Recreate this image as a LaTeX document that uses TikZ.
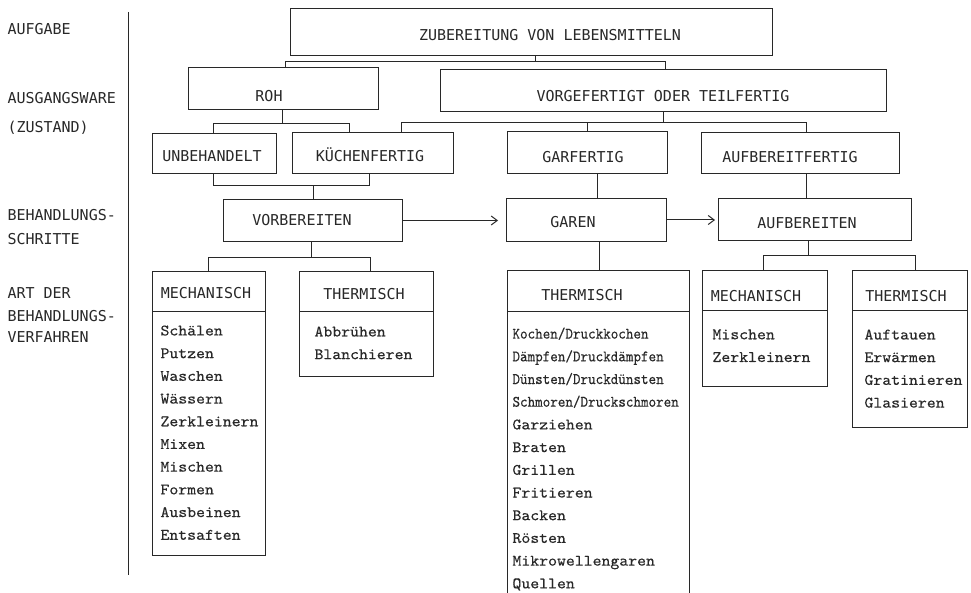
\documentclass[tikz,border=0pt]{standalone}
\usepackage{fontspec}
\usetikzlibrary{arrows.meta}
\newfontfamily\capfont{DejaVu Sans Mono}
\newfontfamily\itemfont{lmmono10-regular.otf}[FakeStretch=1.06,FakeBold=0.4]
\newfontfamily\condfont{lmmono10-regular.otf}[FakeStretch=0.9,FakeBold=0.3]
\definecolor{ink}{RGB}{40,40,40}
\begin{document}
\begin{tikzpicture}[x=1pt,y=-1pt,line width=1pt,draw=ink,text=ink,
  box/.style={draw=ink,rectangle,inner sep=0pt,anchor=north west},
  captxt/.style={font=\capfont\fontsize{15}{18}\selectfont,inner sep=0pt,text height=11pt,text depth=0pt},
  lbl/.style={captxt,anchor=west},
  items/.style={font=\itemfont\fontsize{16}{22.7}\selectfont,align=left,anchor=north west,inner sep=0pt},
  arr/.style={-{Straight Barb[length=6pt,width=9pt]}}]
\useasboundingbox (0,0) rectangle (971,593);
% left column labels
\node[lbl] (l1) at (7,29) {AUFGABE};
\node[lbl] (l2) at (7,98) {AUSGANGSWARE};
\node[lbl] (l3) at (7,127) {(ZUSTAND)};
\node[lbl] (l4) at (7,215) {BEHANDLUNGS-};
\node[lbl] (l5) at (7,239) {SCHRITTE};
\node[lbl] (l6) at (7,293) {ART DER};
\node[lbl] (l7) at (7,316) {BEHANDLUNGS-};
\node[lbl] (l8) at (7,337) {VERFAHREN};
\coordinate (vl1) at (128,12);
\coordinate (vl2) at (128,575);
\draw (vl1) -- (vl2);
% boxes
\node[box,minimum width=482pt,minimum height=47pt] (top) at (290,8) {};
\node[box,minimum width=190pt,minimum height=42pt] (roh) at (188,67) {};
\node[box,minimum width=446pt,minimum height=42pt] (vorg) at (440,69) {};
\node[box,minimum width=124pt,minimum height=40pt] (unb) at (152,133) {};
\node[box,minimum width=161pt,minimum height=41pt] (kue) at (292,132) {};
\node[box,minimum width=160pt,minimum height=42pt] (garf) at (507,131) {};
\node[box,minimum width=198pt,minimum height=41pt] (aufbf) at (701,132) {};
\node[box,minimum width=179pt,minimum height=42pt] (vorb) at (223,199) {};
\node[box,minimum width=160pt,minimum height=43pt] (garen) at (506,198) {};
\node[box,minimum width=193pt,minimum height=42pt] (aufb) at (718,198) {};
\node[box,minimum width=113pt,minimum height=284pt] (lm) at (152,271) {};
\node[box,minimum width=134pt,minimum height=105pt] (lt) at (299,271) {};
\node[box,minimum width=182pt,minimum height=335pt] (ct) at (507,270) {};
\node[box,minimum width=125pt,minimum height=116pt] (rm) at (702,270) {};
\node[box,minimum width=115pt,minimum height=157pt] (rt) at (852,270) {};
% header dividers
\coordinate (dL) at (0,312);
\coordinate (dR) at (0,311);
\draw (lm.west |- dL) -- (lm.east |- dL);
\draw (lt.west |- dL) -- (lt.east |- dL);
\draw (ct.west |- dL) -- (ct.east |- dL);
\draw (rm.west |- dR) -- (rm.east |- dR);
\draw (rt.west |- dR) -- (rt.east |- dR);
% box texts
\node[captxt] (tTop) at (550,35) {ZUBEREITUNG VON LEBENSMITTELN};
\node[captxt] (tRoh) at (269,96) {ROH};
\node[captxt] (tVorg) at (663,96) {VORGEFERTIGT ODER TEILFERTIG};
\node[captxt] (tUnb) at (212,156) {UNBEHANDELT};
\node[captxt] (tKue) at (370,156) {KÜCHENFERTIG};
\node[captxt] (tGarf) at (583,157) {GARFERTIG};
\node[captxt] (tAufbf) at (790,157) {AUFBEREITFERTIG};
\node[captxt] (tVorb) at (302,220) {VORBEREITEN};
\node[captxt] (tGaren) at (573,222) {GAREN};
\node[captxt] (tAufb) at (807,223) {AUFBEREITEN};
\node[captxt] (hLm) at (206,293) {MECHANISCH};
\node[captxt] (hLt) at (364,294) {THERMISCH};
\node[captxt] (hCt) at (582,295) {THERMISCH};
\node[captxt] (hRm) at (756,296) {MECHANISCH};
\node[captxt] (hRt) at (906,296) {THERMISCH};
% item lists
\node[items] (iLm) at (160,325) {Schälen\\Putzen\\Waschen\\Wässern\\Zerkleinern\\Mixen\\Mischen\\Formen\\Ausbeinen\\Entsaften};
\node[items] (iLt) at (314,326) {Abbrühen\\Blanchieren};
\node[items] (iCt) at (512,327) {{\condfont Kochen/Druckkochen}\\{\condfont Dämpfen/Druckdämpfen}\\{\condfont Dünsten/Druckdünsten}\\{\condfont Schmoren/Druckschmoren}\\Garziehen\\Braten\\Grillen\\Fritieren\\Backen\\Rösten\\Mikrowellengaren\\Quellen};
\node[items] (iRm) at (712,329) {Mischen\\Zerkleinern};
\node[items] (iRt) at (864,329) {Auftauen\\Erwärmen\\Gratinieren\\Glasieren};
% connectors: top
\coordinate (t0) at (535,62);
\coordinate (tL) at (285,62);
\coordinate (tR) at (665,62);
\draw (top.south -| t0) -- (t0);
\draw (roh.north -| tL) -- (tL) -- (tR) -- (vorg.north -| tR);
% ROH bus
\coordinate (r0) at (282,124);
\coordinate (rL) at (213,124);
\coordinate (rR) at (349,124);
\draw (roh.south -| r0) -- (r0);
\draw (unb.north -| rL) -- (rL) -- (rR) -- (kue.north -| rR);
% VORG bus
\coordinate (v0) at (663,123);
\coordinate (vL) at (401,123);
\coordinate (vM) at (587,123);
\coordinate (vR) at (806,123);
\draw (vorg.south -| v0) -- (v0);
\draw (kue.north -| vL) -- (vL) -- (vR) -- (aufbf.north -| vR);
\draw (vM) -- (garf.north -| vM);
% to VORBEREITEN
\coordinate (u0) at (313,186);
\coordinate (uL) at (213,186);
\coordinate (uR) at (369,186);
\draw (unb.south -| uL) -- (uL) -- (uR) -- (kue.south -| uR);
\draw (u0) -- (vorb.north -| u0);
% to GAREN and AUFBEREITEN
\coordinate (g0) at (597,0);
\draw (garf.south -| g0) -- (garen.north -| g0);
\coordinate (a0) at (806,0);
\draw (aufbf.south -| a0) -- (aufb.north -| a0);
% arrows
\draw[arr,shorten >=8pt] (vorb.east) -- (vorb.east -| garen.west);
\draw[arr,shorten >=3pt] (garen.east) -- (garen.east -| aufb.west);
% lower buses
\coordinate (b0) at (311,258);
\coordinate (bL) at (208,258);
\coordinate (bR) at (370,258);
\draw (vorb.south -| b0) -- (b0);
\draw (lm.north -| bL) -- (bL) -- (bR) -- (lt.north -| bR);
\coordinate (c0) at (599,0);
\draw (garen.south -| c0) -- (ct.north -| c0);
\coordinate (e0) at (808,256);
\coordinate (eL) at (763,256);
\coordinate (eR) at (915,256);
\draw (aufb.south -| e0) -- (e0);
\draw (rm.north -| eL) -- (eL) -- (eR) -- (rt.north -| eR);
\end{tikzpicture}
\end{document}
